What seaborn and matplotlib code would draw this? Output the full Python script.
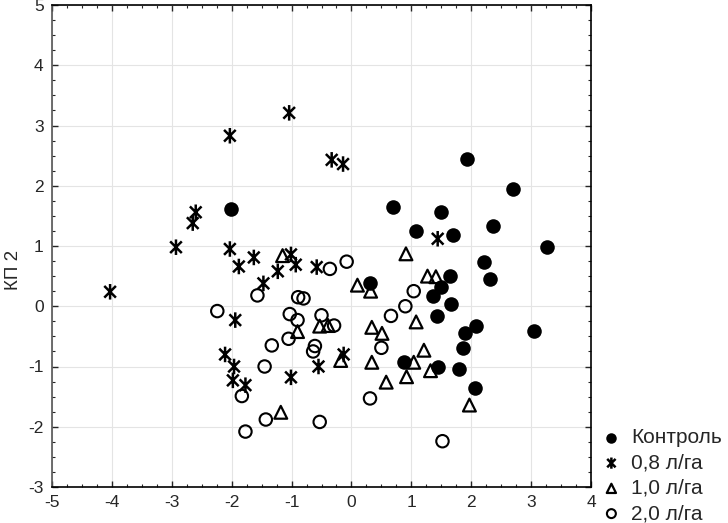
import numpy as np
import pandas as pd
import matplotlib
matplotlib.use("Agg")
import matplotlib.pyplot as plt
from matplotlib.path import Path
import seaborn as sns

# group labels
groups = ["Контроль", "0,8 л/га", "1,0 л/га", "2,0 л/га"]

# Контроль
ctrl_x = [-2.01, 1.93, 2.69, 0.70, 1.49, 1.07, 1.69, 2.36, 3.26, 2.21, 2.31, 1.64, 0.31,
          1.49, 1.36, 1.66, 1.43, 2.08, 1.89, 3.05, 1.87, 0.87, 1.44, 1.80, 2.07]
ctrl_y = [1.61, 2.45, 1.94, 1.64, 1.56, 1.25, 1.19, 1.34, 0.98, 0.73, 0.46, 0.51, 0.39,
          0.32, 0.17, 0.03, -0.17, -0.33, -0.44, -0.41, -0.69, -0.93, -1.01, -1.04, -1.36]

# 0,8 л/га
d08_x = [-1.04, -2.03, -0.33, -0.14, -2.60, -2.65, -2.93, -2.03, -1.63, -1.88, -1.01, -0.93, -1.23,
         -1.47, -0.58, -4.03, 1.44, -1.94, -2.11, -1.96, -1.98, -1.77, -1.01, -0.55, -0.13]
d08_y = [3.21, 2.83, 2.43, 2.36, 1.56, 1.38, 0.98, 0.95, 0.81, 0.66, 0.86, 0.69, 0.58,
         0.38, 0.65, 0.24, 1.12, -0.23, -0.80, -1.00, -1.23, -1.31, -1.18, -1.00, -0.80]

# 1,0 л/га
d10_x = [-1.15, 0.10, 0.32, 0.91, 1.27, 1.41, 1.08, 0.34, 0.51, -0.90, -0.53, -0.39, -0.18,
         0.34, 1.21, 1.04, 0.58, 0.92, 1.32, 1.97, -1.18]
d10_y = [0.84, 0.35, 0.25, 0.87, 0.50, 0.49, -0.26, -0.35, -0.45, -0.42, -0.33, -0.32, -0.90,
         -0.93, -0.73, -0.93, -1.26, -1.17, -1.07, -1.64, -1.76]

# 2,0 л/га
d20_x = [-0.36, -0.08, -1.57, -0.89, -0.80, -2.24, -1.03, -0.90, -0.50, -0.29, -1.05, -1.33, -0.61,
         -0.64, -1.45, -1.83, -1.43, -1.77, -0.53, 0.31, 1.04, 0.90, 0.66, 0.50, 1.52]
d20_y = [0.62, 0.74, 0.18, 0.15, 0.13, -0.08, -0.13, -0.23, -0.15, -0.32, -0.54, -0.65, -0.66,
         -0.75, -1.00, -1.49, -1.88, -2.08, -1.92, -1.53, 0.25, 0.00, -0.16, -0.69, -2.24]

df = pd.concat([
    pd.DataFrame({"x": ctrl_x, "y": ctrl_y, "g": groups[0]}),
    pd.DataFrame({"x": d08_x, "y": d08_y, "g": groups[1]}),
    pd.DataFrame({"x": d10_x, "y": d10_y, "g": groups[2]}),
    pd.DataFrame({"x": d20_x, "y": d20_y, "g": groups[3]}),
])

sns.set_style("ticks")
plt.rcParams["font.family"] = ["Liberation Sans", "DejaVu Sans"]
plt.rcParams["axes.unicode_minus"] = False

# asterisk: vertical bar plus an X
star = Path([(0, -1), (0, 1), (-0.75, -0.75), (0.75, 0.75), (-0.75, 0.75), (0.75, -0.75)],
            [Path.MOVETO, Path.LINETO] * 3)

styles = {
    groups[0]: dict(marker="o", s=110, color="black", edgecolor="black", linewidth=0),
    groups[1]: dict(marker=star, s=125, facecolor="none", edgecolor="black", linewidth=1.8),
    groups[2]: dict(marker="^", s=85, facecolor="none", edgecolor="black", linewidth=1.6),
    groups[3]: dict(marker="o", s=80, facecolor="none", edgecolor="black", linewidth=1.5),
}

fig = plt.figure(figsize=(7.28, 5.23), dpi=100)
ax = fig.add_axes([52 / 728, 1 - 487 / 523, 539 / 728, 482 / 523])

for g in groups:
    sub = df[df["g"] == g]
    sns.scatterplot(data=sub, x="x", y="y", ax=ax, label=g, legend=False, **styles[g])

ax.set_xlim(-5, 4)
ax.set_ylim(-3, 5)
ax.set_xticks(np.arange(-5, 5, 1))
ax.set_yticks(np.arange(-3, 6, 1))
ax.set_xticks(np.arange(-5, 4.01, 0.25), minor=True)
ax.set_yticks(np.arange(-3, 5.01, 0.25), minor=True)
ax.grid(True, which="major", color="#e4e4e4", linewidth=0.8)
ax.tick_params(which="both", direction="in", top=True, right=True, labelsize=12.5, pad=6)
ax.tick_params(which="major", length=4, width=1)
ax.tick_params(which="minor", length=2.5, width=0.8)
for sp in ax.spines.values():
    sp.set_linewidth(1.2)
    sp.set_color("black")
ax.spines["left"].set_color("#555555")
ax.set_xlabel("")
ax.set_ylabel("КП 2", fontsize=13.5)
# the label's right edge sits at about x=22 px, centred at y=270 px
ax.yaxis.set_label_coords(-30 / 539, 217 / 482)

h, l = ax.get_legend_handles_labels()
fig.legend(h, l, loc="upper left", bbox_to_anchor=(0.8255, 0.181), frameon=False,
           fontsize=15, markerscale=0.72, handletextpad=0.45, labelspacing=0.3,
           handlelength=1.0, borderpad=0, borderaxespad=0)

fig.savefig("out.png", dpi=100)
